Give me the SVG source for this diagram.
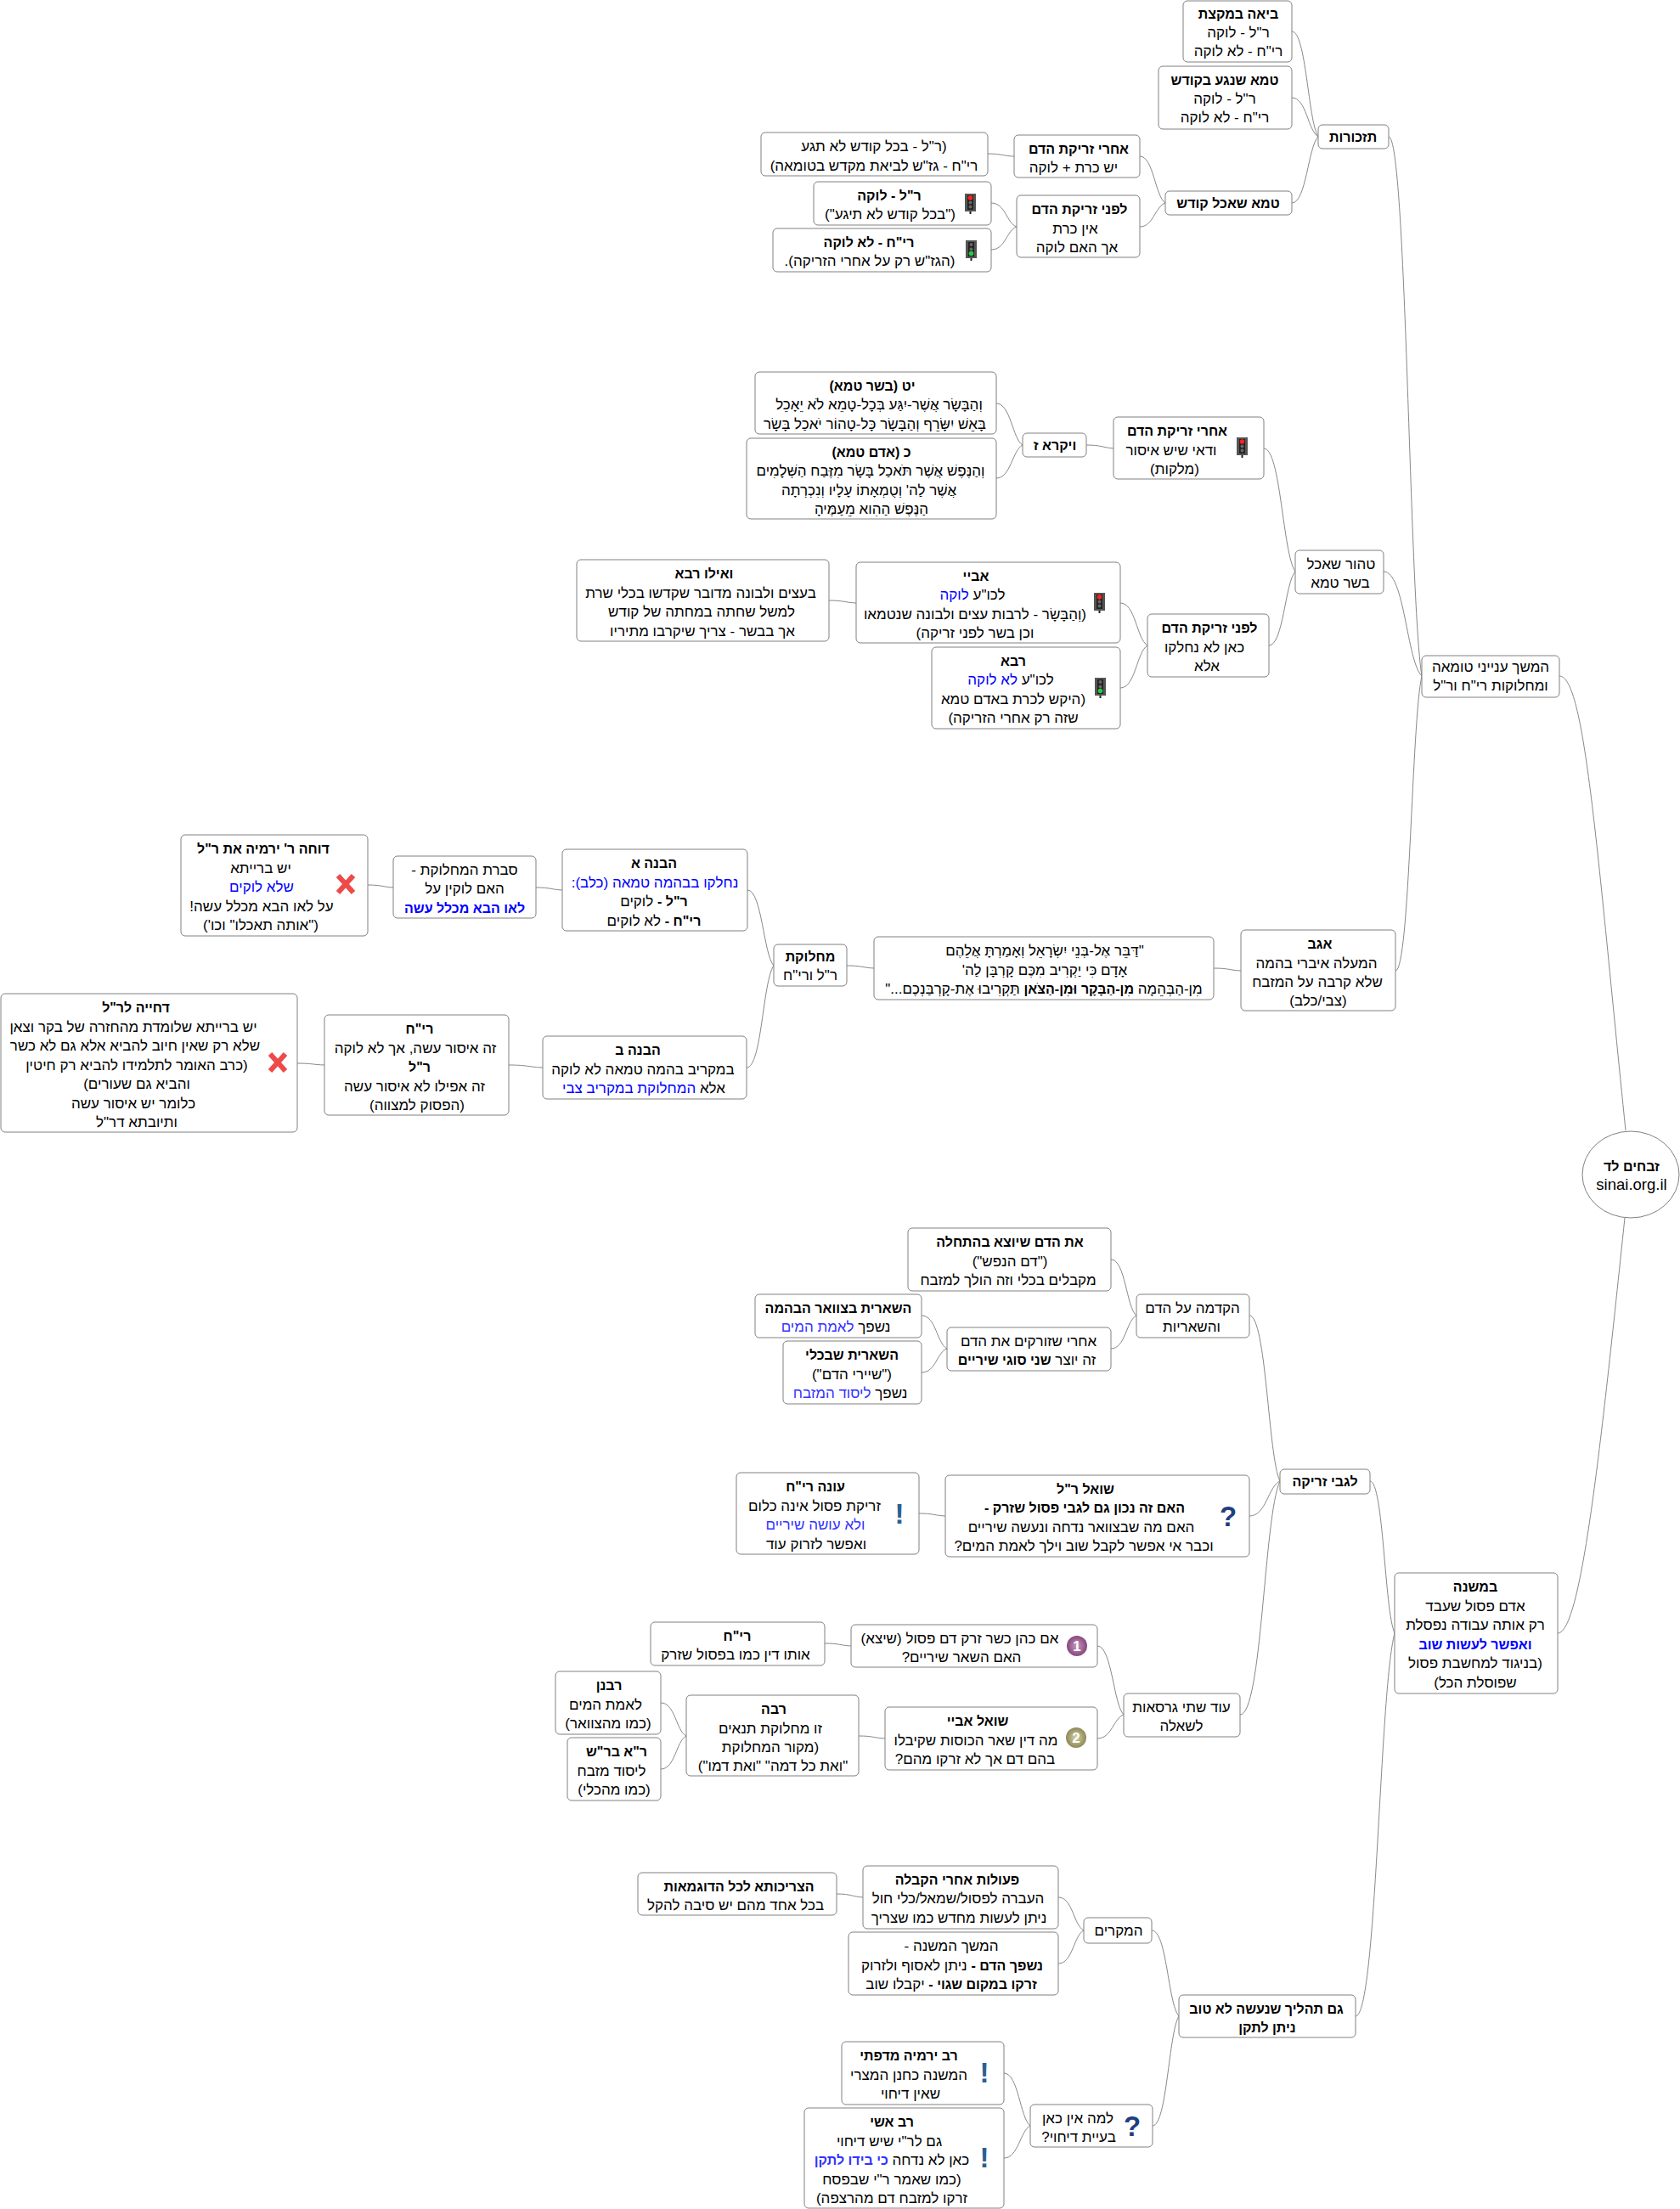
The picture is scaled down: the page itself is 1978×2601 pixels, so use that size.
<svg xmlns="http://www.w3.org/2000/svg" width="1978" height="2601" viewBox="0 0 1978 2601">
<style>
text{font-family:"Liberation Sans",Arial,sans-serif;font-size:17px;fill:#000;direction:rtl;text-anchor:middle}
.b{font-weight:bold;font-size:16px}
.u{fill:#0000ff}
.v{fill:#3333ff}
.n{fill:#fff;stroke:#808080;stroke-width:1}
#connectors path{fill:none;stroke:#888;stroke-width:1}
.ex{font-size:33px;font-weight:bold;fill:#2c5f8f;direction:ltr}
.qu{font-size:33px;font-weight:bold;fill:#1f3f80;direction:ltr}
.num{font-size:17px;font-weight:bold;fill:#fff;direction:ltr}
</style>
<defs>
<radialGradient id="pur" cx="50%" cy="50%" r="55%"><stop offset="0" stop-color="#c79ac0"/><stop offset="1" stop-color="#7f3f76"/></radialGradient>
<radialGradient id="oli" cx="50%" cy="50%" r="55%"><stop offset="0" stop-color="#d8d4a8"/><stop offset="1" stop-color="#86814f"/></radialGradient>
<g id="tlr"><rect x="0" y="0" width="13" height="21" fill="#555"/><rect x="3" y="2" width="7" height="17" fill="#222"/><rect x="5.5" y="21" width="2" height="3" fill="#222"/><circle cx="6.5" cy="5" r="2.8" fill="#ff2020"/><circle cx="6.5" cy="10.5" r="2" fill="#666"/><circle cx="6.5" cy="15.5" r="2" fill="#666"/></g>
<g id="tlg"><rect x="0" y="0" width="13" height="21" fill="#555"/><rect x="3" y="2" width="7" height="17" fill="#222"/><rect x="5.5" y="21" width="2" height="3" fill="#222"/><circle cx="6.5" cy="5" r="2" fill="#666"/><circle cx="6.5" cy="10.5" r="2" fill="#666"/><circle cx="6.5" cy="15.5" r="2.8" fill="#22cc44"/></g>
<g id="xx"><path d="M3 2L21 22M21 2L3 22" stroke="#ee4a4a" stroke-width="6" fill="none"/></g>
</defs>
<g id="connectors">
<path d="M1521 37C1538 37 1540 142 1552 161"/>
<path d="M1521 115C1538 115 1540 154 1552 161"/>
<path d="M1521 239C1538 239 1540 173 1552 161"/>
<path d="M1635 161C1656 161 1659 701 1674 796"/>
<path d="M1342 184C1358 184 1360 231 1372 239"/>
<path d="M1342 267C1358 267 1360 243 1372 239"/>
<path d="M1163 181C1180 181 1183 184 1194 184"/>
<path d="M1167 239C1184 239 1185 263 1197 267"/>
<path d="M1167 294C1184 294 1185 271 1197 267"/>
<path d="M1173 475C1190 475 1192 517 1204 524"/>
<path d="M1173 563C1190 563 1192 530 1204 524"/>
<path d="M1279 524C1297 524 1298 527 1311 528"/>
<path d="M1488 528C1508 528 1510 651 1525 673"/>
<path d="M1494 760C1511 760 1513 686 1525 673"/>
<path d="M1319 710C1337 710 1338 752 1351 760"/>
<path d="M1319 810C1337 810 1338 768 1351 760"/>
<path d="M976 707C994 707 995 709.5 1008 710"/>
<path d="M1629 673C1654 673 1656 778 1674 796"/>
<path d="M1643 1143C1660 1143 1662 848 1674 796"/>
<path d="M1429 1140C1447 1140 1448 1142.5 1461 1143"/>
<path d="M997 1137C1015 1137 1016 1139.5 1029 1140"/>
<path d="M880 1048C897 1048 899 1124 911 1137"/>
<path d="M879 1257C897 1257 898 1155 911 1137"/>
<path d="M631 1045C648 1045 650 1047.5 662 1048"/>
<path d="M433 1042C450 1042 451 1044.5 463 1045"/>
<path d="M599 1254C621 1254 623 1256.5 639 1257"/>
<path d="M350 1252C368 1252 369 1253.7 382 1254"/>
<path d="M1836 796C1866 796 1880 1000 1914 1331"/>
<path d="M1834 1923C1862 1923 1885 1700 1913 1434"/>
<path d="M1613 1744C1629 1744 1630 1896 1642 1923"/>
<path d="M1596 2374C1621 2374 1624 1991 1642 1923"/>
<path d="M1471 1549C1491 1549 1493 1715 1507 1744"/>
<path d="M1471 1785C1491 1785 1493 1750 1507 1744"/>
<path d="M1460 2019C1486 2019 1488 1785 1507 1744"/>
<path d="M1308 1483C1325 1483 1326 1539 1338 1549"/>
<path d="M1308 1588C1325 1588 1326 1555 1338 1549"/>
<path d="M1085 1549C1102 1549 1103 1582 1115 1588"/>
<path d="M1085 1616C1102 1616 1103 1592 1115 1588"/>
<path d="M1082 1782C1099 1782 1101 1784.5 1113 1785"/>
<path d="M1292 1938C1309 1938 1311 2007 1323 2019"/>
<path d="M1292 2047C1309 2047 1311 2023 1323 2019"/>
<path d="M971 1935C988 1935 990 1937.5 1002 1938"/>
<path d="M1011 2044C1028 2044 1030 2046.5 1042 2047"/>
<path d="M778 2005C795 2005 796 2038 808 2044"/>
<path d="M778 2083C795 2083 796 2050 808 2044"/>
<path d="M1246 2234C1263 2234 1264 2267 1276 2273"/>
<path d="M1246 2312C1263 2312 1264 2279 1276 2273"/>
<path d="M1356 2273C1374 2273 1375 2359 1388 2374"/>
<path d="M1357 2503C1374 2503 1376 2393 1388 2374"/>
<path d="M985 2230C1002 2230 1004 2233.4 1016 2234"/>
<path d="M1182 2441C1199 2441 1201 2494 1213 2503"/>
<path d="M1182 2541C1199 2541 1201 2509 1213 2503"/>
</g>
<g id="root"><ellipse class="n" cx="1920" cy="1383" rx="57" ry="51"/><text class="b" x="1921" y="1379">זבחים לד</text><text x="1921" y="1401" style="direction:ltr;font-size:18.5px">sinai.org.il</text></g>
<g id="n-main"><rect class="n" x="1674" y="772" width="162" height="49" rx="5"/><text x="1755" y="791">המשך ענייני טומאה</text><text x="1755" y="813">ומחלוקות רי"ח ור"ל</text></g>
<g id="n-tizk"><rect class="n" x="1552" y="147" width="83" height="28" rx="5"/><text class="b" x="1593" y="167">תזכורות</text></g>
<g id="n-biah"><rect class="n" x="1393" y="1" width="128" height="72" rx="5"/><text class="b" x="1458" y="22">ביאה במקצת</text><text x="1458" y="44">ר"ל - לוקה</text><text x="1458" y="66">רי"ח - לא לוקה</text></g>
<g id="n-tame1"><rect class="n" x="1364" y="78" width="157" height="74" rx="5"/><text class="b" x="1442" y="100">טמא שנגע בקודש</text><text x="1442" y="122">ר"ל - לוקה</text><text x="1442" y="144">רי"ח - לא לוקה</text></g>
<g id="n-tame2"><rect class="n" x="1372" y="225" width="149" height="28" rx="5"/><text class="b" x="1446" y="245">טמא שאכל קודש</text></g>
<g id="n-after1"><rect class="n" x="1194" y="159" width="148" height="50" rx="5"/><text class="b" x="1270" y="181">אחרי זריקת הדם</text><text x="1264" y="203">יש כרת + לוקה</text></g>
<g id="n-rl1"><rect class="n" x="896" y="156" width="267" height="51" rx="5"/><text x="1029" y="178">(ר"ל - בכל קודש לא תגע</text><text x="1029" y="201">רי"ח - גז"ש לביאת מקדש בטומאה)</text></g>
<g id="n-before1"><rect class="n" x="1197" y="230" width="145" height="73" rx="5"/><text class="b" x="1271" y="252">לפני זריקת הדם</text><text x="1266" y="275">אין כרת</text><text x="1268" y="297">אך האם לוקה</text></g>
<g id="n-rl2"><rect class="n" x="958" y="214" width="209" height="51" rx="5"/><text class="b" x="1047" y="236">ר"ל - לוקה</text><text x="1048" y="258">("בכל קודש לא תיגע")</text><use href="#tlr" x="1136" y="228"/></g>
<g id="n-rh2"><rect class="n" x="910" y="269" width="257" height="51" rx="5"/><text class="b" x="1023" y="291">רי"ח - לא לוקה</text><text x="1024" y="313">(הגז"ש רק על אחרי הזריקה).</text><use href="#tlg" x="1137" y="283"/></g>
<g id="n-tahor"><rect class="n" x="1525" y="648" width="104" height="51" rx="5"/><text x="1579" y="670">טהור שאכל</text><text x="1578" y="692">בשר טמא</text></g>
<g id="n-after2"><rect class="n" x="1311" y="491" width="177" height="73" rx="5"/><text class="b" x="1386" y="513">אחרי זריקת הדם</text><text x="1379" y="536">ודאי שיש איסור</text><text x="1383" y="558">(מלקות)</text><use href="#tlr" x="1456" y="515"/></g>
<g id="n-vay"><rect class="n" x="1204" y="510" width="75" height="28" rx="5"/><text class="b" x="1242" y="530">ויקרא ז</text></g>
<g id="n-yt"><rect class="n" x="889" y="438" width="284" height="73" rx="5"/><text class="b" x="1027" y="460">יט (בשר טמא)</text><text x="1035" y="482">וְהַבָּשָׂר אֲשֶׁר-יִגַּע בְּכָל-טָמֵא לֹא יֵאָכֵל</text><text x="1030" y="505">בָּאֵשׁ יִשָּׂרֵף וְהַבָּשָׂר כָּל-טָהוֹר יֹאכַל בָּשָׂר</text></g>
<g id="n-kaf"><rect class="n" x="879" y="516" width="294" height="95" rx="5"/><text class="b" x="1026" y="538">כ (אדם טמא)</text><text x="1025" y="560">וְהַנֶּפֶשׁ אֲשֶׁר תֹּאכַל בָּשָׂר מִזֶּבַח הַשְּׁלָמִים</text><text x="1023" y="583">אֲשֶׁר לַה' וְטֻמְאָתוֹ עָלָיו וְנִכְרְתָה</text><text x="1026" y="605">הַנֶּפֶשׁ הַהִוא מֵעַמֶּיהָ</text></g>
<g id="n-before2"><rect class="n" x="1351" y="723" width="143" height="74" rx="5"/><text class="b" x="1424" y="745">לפני זריקת הדם</text><text x="1418" y="768">כאן לא נחלקו</text><text x="1421" y="790">אלא</text></g>
<g id="n-abaye"><rect class="n" x="1008" y="662" width="311" height="95" rx="5"/><text class="b" x="1149" y="684">אביי</text><text x="1145" y="706">לכו"ע <tspan class="u">לוקה</tspan></text><text x="1148" y="729">(וְהַבָּשָׂר - לרבות עצים ולבונה שנטמאו</text><text x="1148" y="751">וכן בשר לפני זריקה)</text><use href="#tlr" x="1288" y="698"/></g>
<g id="n-rava"><rect class="n" x="1097" y="762" width="222" height="96" rx="5"/><text class="b" x="1193" y="784">רבא</text><text x="1190" y="806">לכו"ע <tspan class="u">לא לוקה</tspan></text><text x="1193" y="829">(היקש לכרת באדם טמא</text><text x="1193" y="851">שזה רק אחרי הזריקה)</text><use href="#tlg" x="1289" y="798"/></g>
<g id="n-veilu"><rect class="n" x="679" y="659" width="297" height="96" rx="5"/><text class="b" x="829" y="681">ואילו רבא</text><text x="825" y="704">בעצים ולבונה מדובר שקדשו בכלי שרת</text><text x="826" y="726">למשל שחתה במחתה של קודש</text><text x="827" y="749">אך בבשר -  צריך שיקרבו מתיריו</text></g>
<g id="n-agav"><rect class="n" x="1461" y="1095" width="182" height="95" rx="5"/><text class="b" x="1554" y="1117">אגב</text><text x="1550" y="1140">המעלה איברי בהמה</text><text x="1551" y="1162">שלא קרבה על המזבח</text><text x="1552" y="1184">(צבי/כלב)</text></g>
<g id="n-dabber"><rect class="n" x="1029" y="1103" width="400" height="74" rx="5"/><text x="1230" y="1125">"דַּבֵּר אֶל-בְּנֵי יִשְׂרָאֵל וְאָמַרְתָּ אֲלֵהֶם</text><text x="1230" y="1148">אָדָם  כִּי יַקְרִיב מִכֶּם קָרְבָּן לַה'</text><text x="1229" y="1170">מִן-הַבְּהֵמָה <tspan class="b">מִן-הַבָּקָר וּמִן-הַצֹּאן</tspan>  תַּקְרִיבוּ אֶת-קָרְבַּנְכֶם..."</text></g>
<g id="n-mach"><rect class="n" x="911" y="1112" width="86" height="49" rx="5"/><text class="b" x="954" y="1132">מחלוקת</text><text x="954" y="1154">ר"ל ורי"ח</text></g>
<g id="n-hav1"><rect class="n" x="662" y="1000" width="218" height="96" rx="5"/><text class="b" x="770" y="1022">הבנה א</text><text class="u" x="771" y="1045">נחלקו בבהמה טמאה (כלב):</text><text x="770" y="1067"><tspan class="b">ר"ל -</tspan> לוקים</text><text x="770" y="1090"><tspan class="b">רי"ח -</tspan> לא לוקים</text></g>
<g id="n-sevara"><rect class="n" x="463" y="1008" width="168" height="73" rx="5"/><text x="547" y="1030">סברת המחלוקת -</text><text x="547" y="1052">האם לוקין על</text><text class="b u" x="547" y="1075">לאו הבא מכלל עשה</text></g>
<g id="n-doche"><rect class="n" x="213" y="983" width="220" height="119" rx="5"/><text class="b" x="310" y="1005">דוחה ר' ירמיה את ר"ל</text><text x="307" y="1028">יש ברייתא</text><text class="u" x="308" y="1050">שלא לוקים</text><text x="308" y="1073">על לאו הבא מכלל עשה!</text><text x="307" y="1095">("אותה תאכלו" וכו')</text><use href="#xx" x="395" y="1029"/></g>
<g id="n-hav2"><rect class="n" x="639" y="1220" width="240" height="74" rx="5"/><text class="b" x="751" y="1242">הבנה ב</text><text x="757" y="1265">במקריב בהמה טמאה לא לוקה</text><text x="758" y="1287">אלא <tspan class="u">המחלוקת במקריב צבי</tspan></text></g>
<g id="n-rh3"><rect class="n" x="382" y="1195" width="217" height="118" rx="5"/><text class="b" x="494" y="1217">רי"ח</text><text x="489" y="1240">זה איסור עשה, אך לא לוקה</text><text class="b" x="494" y="1262">ר"ל</text><text x="488" y="1285">זה אפילו לא איסור עשה</text><text x="491" y="1307">(הפסוק למצווה)</text></g>
<g id="n-dchiya"><rect class="n" x="1" y="1170" width="349" height="163" rx="5"/><text class="b" x="160" y="1192">דחייה לר"ל</text><text x="157" y="1215">יש ברייתא שלומדת מהחזרה של בקר וצאן</text><text x="159" y="1237">שלא רק שאין חיוב להביא אלא גם לא כשר</text><text x="161" y="1260">(כרב האומר לתלמידו להביא רק חיטין</text><text x="161" y="1282">והביא גם שעורים)</text><text x="157" y="1305">כלומר יש איסור עשה</text><text x="161" y="1327">ותיובתא דר"ל</text><use href="#xx" x="315" y="1239"/></g>
<g id="n-mishna"><rect class="n" x="1642" y="1852" width="192" height="142" rx="5"/><text class="b" x="1737" y="1874">במשנה</text><text x="1737" y="1897">אדם פסול שעבד</text><text x="1737" y="1919">רק אותה עבודה נפסלת</text><text class="b u" x="1737" y="1942">ואפשר לעשות שוב</text><text x="1737" y="1964">(בניגוד למחשבת פסול</text><text x="1737" y="1987">שפוסלת הכל)</text></g>
<g id="n-legabei"><rect class="n" x="1507" y="1730" width="106" height="29" rx="5"/><text class="b" x="1560" y="1750">לגבי זריקה</text></g>
<g id="n-hakdama"><rect class="n" x="1338" y="1524" width="133" height="51" rx="5"/><text x="1404" y="1546">הקדמה על הדם</text><text x="1403" y="1568">והשאריות</text></g>
<g id="n-dam"><rect class="n" x="1069" y="1446" width="239" height="74" rx="5"/><text class="b" x="1189" y="1468">את הדם שיוצא בהתחלה</text><text x="1189" y="1491">("דם הנפש")</text><text x="1187" y="1513">מקבלים בכלי וזה הולך למזבח</text></g>
<g id="n-acharei3"><rect class="n" x="1115" y="1563" width="193" height="51" rx="5"/><text x="1211" y="1585">אחרי שזורקים את הדם</text><text x="1209" y="1607">זה יוצר <tspan class="b">שני סוגי שיריים</tspan></text></g>
<g id="n-tz"><rect class="n" x="889" y="1524" width="196" height="51" rx="5"/><text class="b" x="987" y="1546">השארית בצוואר הבהמה</text><text x="984" y="1568">נשפך <tspan class="v">לאמת המים</tspan></text></g>
<g id="n-kli"><rect class="n" x="922" y="1579" width="163" height="74" rx="5"/><text class="b" x="1003" y="1601">השארית שבכלי</text><text x="1003" y="1624">("שיירי הדם")</text><text x="1001" y="1646">נשפך <tspan class="v">ליסוד המזבח</tspan></text></g>
<g id="n-shoel"><rect class="n" x="1113" y="1737" width="358" height="96" rx="5"/><text class="b" x="1278" y="1759">שואל ר"ל</text><text class="b" x="1277" y="1781">האם זה נכון גם לגבי פסול שזרק -</text><text x="1273" y="1804">האם מה שבצוואר נדחה ונעשה שיריים</text><text x="1276" y="1826">וכבר אי אפשר לקבל שוב וילך לאמת המים?</text><text class="qu" x="1446" y="1797">?</text></g>
<g id="n-one"><rect class="n" x="867" y="1734" width="215" height="96" rx="5"/><text class="b" x="960" y="1756">עונה רי"ח</text><text x="959" y="1779">זריקת פסול אינה כלום</text><text class="v" x="960" y="1801">ולא עושה שיריים</text><text x="961" y="1824">ואפשר לזרוק עוד</text><text class="ex" x="1059" y="1794">!</text></g>
<g id="n-od"><rect class="n" x="1323" y="1994" width="137" height="51" rx="5"/><text x="1391" y="2016">עוד שתי גרסאות</text><text x="1391" y="2038">לשאלה</text></g>
<g id="n-kohen"><rect class="n" x="1002" y="1913" width="290" height="50" rx="5"/><text x="1130" y="1935">אם כהן כשר זרק דם פסול (שיצא)</text><text x="1132" y="1957">האם השאר שיריים?</text><circle cx="1268" cy="1938" r="12" fill="url(#pur)"/><text class="num" x="1268" y="1944">1</text></g>
<g id="n-rh4"><rect class="n" x="766" y="1910" width="205" height="51" rx="5"/><text class="b" x="868" y="1932">רי"ח</text><text x="866" y="1954">אותו דין כמו בפסול שזרק</text></g>
<g id="n-abaye2"><rect class="n" x="1042" y="2010" width="250" height="74" rx="5"/><text class="b" x="1151" y="2032">שואל אביי</text><text x="1149" y="2055">מה דין שאר הכוסות שקיבלו</text><text x="1148" y="2077">בהם דם אך לא זרקו מהם?</text><circle cx="1267" cy="2046" r="12" fill="url(#oli)"/><text class="num" x="1267" y="2052">2</text></g>
<g id="n-raba"><rect class="n" x="808" y="1996" width="203" height="95" rx="5"/><text class="b" x="911" y="2018">רבה</text><text x="907" y="2041">זו מחלוקת תנאים</text><text x="907" y="2063">(מקור המחלוקת</text><text x="910" y="2085">"ואת כל דמה" "ואת דמו")</text></g>
<g id="n-rabanan"><rect class="n" x="654" y="1968" width="124" height="74" rx="5"/><text class="b" x="717" y="1990">רבנן</text><text x="713" y="2013">לאמת המים</text><text x="716" y="2035">(כמו מהצוואר)</text></g>
<g id="n-rabs"><rect class="n" x="668" y="2046" width="110" height="74" rx="5"/><text class="b" x="726" y="2068">ר"א בר"ש</text><text x="720" y="2091">ליסוד מזבח</text><text x="723" y="2113">(כמו מהכלי)</text></g>
<g id="n-gam"><rect class="n" x="1388" y="2349" width="208" height="50" rx="5"/><text class="b" x="1491" y="2371">גם תהליך שנעשה לא טוב</text><text class="b" x="1492" y="2393">ניתן לתקן</text></g>
<g id="n-mikrim"><rect class="n" x="1276" y="2258" width="80" height="30" rx="5"/><text x="1317" y="2279">המקרים</text></g>
<g id="n-peulot"><rect class="n" x="1016" y="2197" width="230" height="74" rx="5"/><text class="b" x="1127" y="2219">פעולות אחרי הקבלה</text><text x="1128" y="2241">העברה לפסול/שמאל/כלי חול</text><text x="1129" y="2264">ניתן לעשות מחדש כמו שצריך</text></g>
<g id="n-hemshech"><rect class="n" x="999" y="2275" width="247" height="74" rx="5"/><text x="1120" y="2297">המשך המשנה -</text><text x="1121" y="2320"><tspan class="b">נשפך הדם -</tspan>  ניתן לאסוף ולזרוק</text><text x="1120" y="2342"><tspan class="b">זרקו במקום שגוי -</tspan> יקבלו שוב</text></g>
<g id="n-tzrichuta"><rect class="n" x="751" y="2205" width="234" height="50" rx="5"/><text class="b" x="870" y="2227">הצריכותא לכל הדוגמאות</text><text x="866" y="2249">בכל אחד מהם יש סיבה להקל</text></g>
<g id="n-lama"><rect class="n" x="1213" y="2478" width="144" height="50" rx="5"/><text x="1269" y="2500">למה אין כאן</text><text x="1270" y="2522">בעיית דיחוי?</text><text class="qu" x="1333" y="2515">?</text></g>
<g id="n-yirmiya"><rect class="n" x="991" y="2404" width="191" height="74" rx="5"/><text class="b" x="1070" y="2426">רב ירמיה מדפתי</text><text x="1070" y="2449">המשנה כחנן המצרי</text><text x="1072" y="2471">שאין דיחוי</text><text class="ex" x="1159" y="2452">!</text></g>
<g id="n-ashi"><rect class="n" x="947" y="2482" width="235" height="118" rx="5"/><text class="b" x="1050" y="2504">רב אשי</text><text x="1047" y="2527">גם לר"י שיש דיחוי</text><text x="1050" y="2549">כאן לא נדחה <tspan class="b v">כי בידו לתקן</tspan></text><text x="1050" y="2572">(כמו שאמר ר"י שבפסח</text><text x="1050" y="2594">זרקו למזבח דם מהרצפה)</text><text class="ex" x="1159" y="2552">!</text></g>
</svg>
